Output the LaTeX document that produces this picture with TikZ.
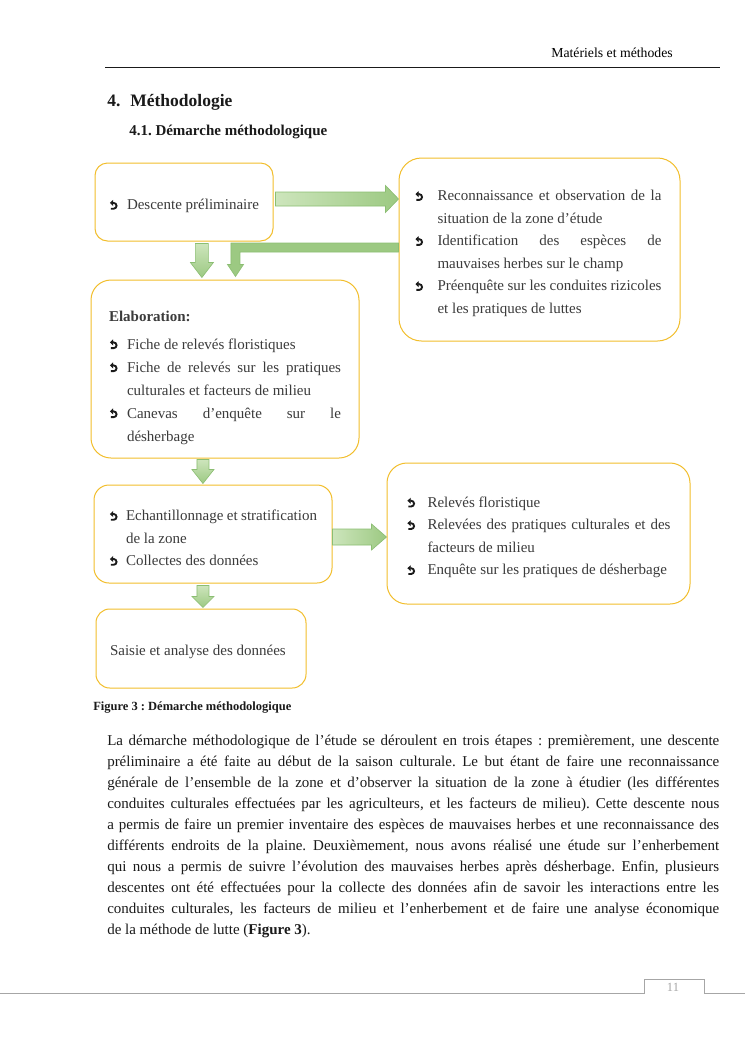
\documentclass[tikz,border=0pt]{standalone}
\usepackage{fontspec}
\setmainfont{Liberation Serif}
\usetikzlibrary{positioning,calc,arrows.meta}
\definecolor{ink}      {HTML}{1A1A1A}
\definecolor{boxtext}  {HTML}{3B3B3B}
\definecolor{gold}     {HTML}{F2BE2C}
\definecolor{leaflite} {HTML}{CDE5BC}
\definecolor{leafmid}  {HTML}{9CC982}
\definecolor{leafedge} {HTML}{8BBE72}
\definecolor{pagegray} {HTML}{A6A6A6}
\frenchspacing
% stacked lines: justified / ragged, bullet
\newlength\shft
\newlength\lw
\newcommand\lines[3][0pt]{\vbox{\setlength\lw{#2}\setlength\hsize{#2}\vskip#1\relax#3}}
\newcommand\jl[1]{\moveleft\shft\hbox to\lw{#1}}
\newcommand\rl[1]{\moveleft\shft\hbox to\lw{#1\hfil}}
\newcommand\bul{\tikz[baseline=0pt,x=1pt,y=1pt,sharp corners]{\draw[draw=ink,
  line width=1.5pt,-{Triangle[length=2.6pt,width=4.8pt]}] (0.7pt,0.75pt)
  -- (3pt,0.75pt) arc[start angle=-90,end angle=90,radius=2.3pt] -- (0pt,5.35pt);}}
\newcommand\bu[1]{\makebox[#1][l]{\bul}}
\newcommand\ind[1]{\hskip#1\relax}
% block arrows (start, end, half shaft, head length, half head)
\newcommand\rightblk[5]{\path[blk,left color=leaflite,right color=leafmid]
  ($(#1)+(0,-#3)$) -- ($(#2)+(-#4,-#3)$) -- ($(#2)+(-#4,-#5)$) -- (#2)
  -- ($(#2)+(-#4,#5)$) -- ($(#2)+(-#4,#3)$) -- ($(#1)+(0,#3)$) -- cycle;}
\newcommand\downblk[5]{\path[blk,top color=leaflite,bottom color=leafmid]
  ($(#1)+(-#3,0)$) -- ($(#2)+(-#3,-#4)$) -- ($(#2)+(-#5,-#4)$) -- (#2)
  -- ($(#2)+(#5,-#4)$) -- ($(#2)+(#3,-#4)$) -- ($(#1)+(#3,0)$) -- cycle;}
\tikzset{
  box/.style  = {draw=gold, line width=0.8pt, text=boxtext, inner sep=0pt,
                 font=\fontsize{12}{18}\selectfont},
  blk/.style  = {draw=leafedge, line width=0.5pt},
  hd/.style   = {anchor=base west, inner sep=0pt, text=ink},
  body/.style = {anchor=north west, inner sep=0pt, text=ink,
                 font=\fontsize{12}{16.8}\selectfont},
}
\begin{document}
\begin{tikzpicture}[x=0.8pt,y=-0.8pt]
  \useasboundingbox[fill=white] (0,0) rectangle (745,1053);

  % page header
  \node[anchor=base east,inner sep=0pt,font=\fontsize{11}{13}\selectfont] (hdr) at (673,57)
    {Matériels et méthodes};
  \draw[ink,line width=0.8pt] (105,67) -- (720,67);
  \node[hd,font=\bfseries\fontsize{14}{16}\selectfont] (sec) at (107,106)
    {4.\hspace{8pt}Méthodologie};
  \node[hd,font=\bfseries\fontsize{12}{14}\selectfont] (subsec) at (129,135)
    {4.1.\hspace{3pt}Démarche méthodologique};

  % boxes
  \node[box,rounded corners=10pt,minimum width=142.4pt,minimum height=62.4pt]
    (prelim) at (184,202)
    {\lines[6.4pt]{120pt}{\rl{\bu{14.4pt}Descente préliminaire}}};
  \node[box,rounded corners=18pt,minimum width=224.8pt,minimum height=146.4pt]
    (recon) at (539.5,249.5)
    {\setlength\shft{2.4pt}\lines[6.4pt]{197.6pt}{
     \jl{\bu{18.4pt}Reconnaissance et observation de la}
     \rl{\ind{18.4pt}situation de la zone d’étude}
     \jl{\bu{18.4pt}Identification des espèces de}
     \rl{\ind{18.4pt}mauvaises herbes sur le champ}
     \jl{\bu{18.4pt}Préenquête sur les conduites rizicoles}
     \rl{\ind{18.4pt}et les pratiques de luttes}}};
  \node[box,rounded corners=16pt,minimum width=214.4pt,minimum height=142.4pt,
        font=\fontsize{12}{18.4}\selectfont] (elab) at (225,369)
    {\lines[13.6pt]{185.6pt}{\rl{\textbf{Elaboration:}}\vskip4pt
     \rl{\bu{14.4pt}Fiche de relevés floristiques}
     \jl{\bu{14.4pt}Fiche de relevés sur les pratiques}
     \rl{\ind{14.4pt}culturales et facteurs de milieu}
     \jl{\bu{14.4pt}Canevas d’enquête sur le}
     \rl{\ind{14.4pt}désherbage}}};
  \node[box,rounded corners=12pt,minimum width=190.4pt,minimum height=78.4pt]
    (sample) at (213,534)
    {\lines[6.4pt]{166.4pt}{
     \rl{\bu{13.6pt}Echantillonnage et stratification}
     \rl{\ind{13.6pt}de la zone}
     \rl{\bu{13.6pt}Collectes des données}}};
  \node[box,rounded corners=16pt,minimum width=242.4pt,minimum height=112.8pt]
    (survey) at (538.5,533.5)
    {\lines[6.4pt]{211.2pt}{
     \rl{\bu{16.8pt}Relevés floristique}
     \jl{\bu{16.8pt}Relevées des pratiques culturales et des}
     \rl{\ind{16.8pt}facteurs de milieu}
     \rl{\bu{16.8pt}Enquête sur les pratiques de désherbage}}};
  \node[box,rounded corners=11pt,minimum width=168pt,minimum height=63.2pt]
    (analysis) at (201,648.5)
    {\lines[4.8pt]{145.6pt}{\rl{Saisie et analyse des données}}};

  % arrows
  \coordinate (a1s) at ($(prelim.east)+(2,-3)$);
  \coordinate (a1e) at (recon.west |- a1s);
  \rightblk{a1s}{a1e}{7}{13}{13.5}
  \coordinate (a2s) at ($(prelim.south west)!0.6!(prelim.south east)+(0,2)$);
  \coordinate (a2e) at ($(a2s |- elab.north)+(0,-2)$);
  \downblk{a2s}{a2e}{6.5}{15}{11.5}
  \coordinate (e0) at ($(recon.west)+(0,-2)$);
  \coordinate (e2) at ($(elab.north west)!0.539!(elab.north east)+(0,-3)$);
  \coordinate (e1) at (e2 |- e0);
  \path[blk,fill=leafmid]
    ($(e0)+(0,-4.5)$) -- ($(e1)+(-4.5,-4.5)$) -- ($(e2)+(-4.5,-12)$)
    -- ($(e2)+(-8,-12)$) -- (e2) -- ($(e2)+(8,-12)$) -- ($(e2)+(4.5,-12)$)
    -- ($(e1)+(4.5,4.5)$) -- ($(e0)+(0,4.5)$) -- cycle;
  \coordinate (a4s) at ($(elab.south west)!0.418!(elab.south east)+(0,1)$);
  \coordinate (a4e) at ($(a4s |- sample.north)+(0,-1)$);
  \downblk{a4s}{a4e}{6}{14}{11}
  \coordinate (a5s) at ($(sample.east)+(0,3)$);
  \coordinate (a5e) at (survey.west |- a5s);
  \rightblk{a5s}{a5e}{8}{15}{13}
  \coordinate (a6s) at ($(sample.south west)!0.458!(sample.south east)+(0,2)$);
  \coordinate (a6e) at ($(a6s |- analysis.north)+(0,-1)$);
  \downblk{a6s}{a6e}{6}{11}{11}

  \node[hd,font=\bfseries\fontsize{10}{12}\selectfont] (cap) at (93,710)
    {Figure 3 : Démarche méthodologique};

  % text
  \node[body] (txt) at (107,734.5)
    {\lines{489.6pt}{
     \jl{La démarche méthodologique de l’étude se déroulent en trois étapes : premièrement, une descente}
     \jl{préliminaire a été faite au début de la saison culturale. Le but étant de faire une reconnaissance}
     \jl{générale de l’ensemble de la zone et d’observer la situation de la zone à étudier (les différentes}
     \jl{conduites culturales effectuées par les agriculteurs, et les facteurs de milieu). Cette descente nous}
     \jl{a permis de faire un premier inventaire des espèces de mauvaises herbes et une reconnaissance des}
     \jl{différents endroits de la plaine. Deuxièmement, nous avons réalisé une étude sur l’enherbement}
     \jl{qui nous a permis de suivre l’évolution des mauvaises herbes après désherbage. Enfin, plusieurs}
     \jl{descentes ont été effectuées pour la collecte des données afin de savoir les interactions entre les}
     \jl{conduites culturales, les facteurs de milieu et l’enherbement et de faire une analyse économique}
     \rl{de la méthode de lutte (\textbf{Figure 3}).}}};

  % page number
  \draw[pagegray,line width=0.6pt] (0,993) -- (644,993) -- (644,979) -- (704,979)
    -- (704,993) -- (745,993);
  \node[text=pagegray,font=\fontsize{10}{12}\selectfont] (pnum) at (673,987) {11};
\end{tikzpicture}
\end{document}
